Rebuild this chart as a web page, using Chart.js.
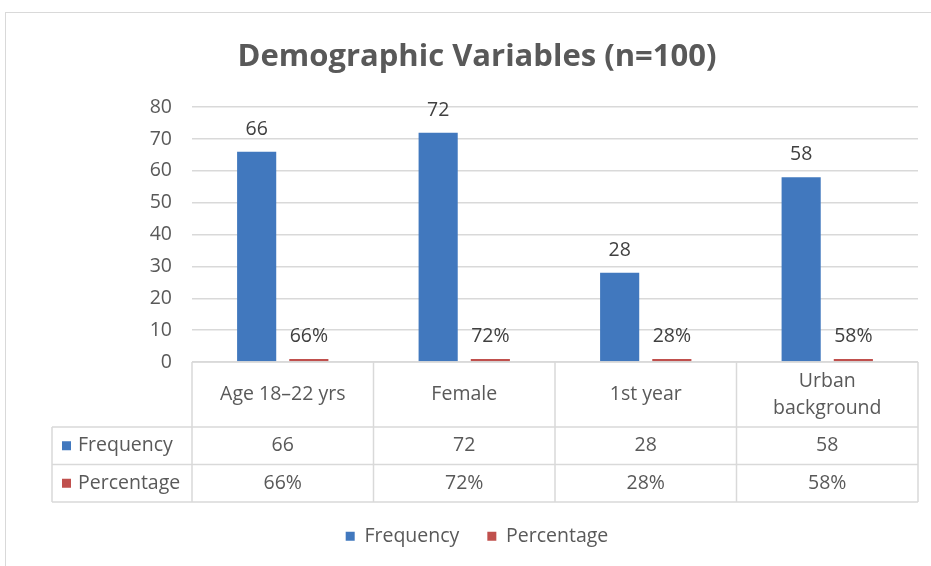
<!DOCTYPE html>
<html>
<head>
<meta charset="utf-8">
<script src="https://cdn.jsdelivr.net/npm/chart.js@4.4.1/dist/chart.umd.min.js"></script>
<style>
  html, body { margin: 0; padding: 0; background: #ffffff; }
  #wrap { position: relative; width: 931px; height: 566px; overflow: hidden; }
  #frame { position: absolute; left: 5px; top: 12px; width: 960px; height: 600px; border: 1px solid #d9d9d9; box-sizing: border-box; }
  canvas { position: absolute; left: 0; top: 0; }
</style>
</head>
<body>
<div id="wrap">
  <div id="frame"></div>
  <canvas id="c" width="931" height="566"></canvas>
</div>
<script>
// ---- data ----
const titleText = 'Demographic Variables (n=100)';
const categories = [['Age 18\u201322 yrs'], ['Female'], ['1st year'], ['Urban', 'background']];
const frequency = [66, 72, 28, 58];
const percentage = [0.66, 0.72, 0.28, 0.58];
const seriesNames = ['Frequency', 'Percentage'];
const yTicks = { min: 0, max: 80, step: 10 };

// ---- styles ----
const FONT = '"Open Sans", Lato, sans-serif';
const FS = 19.5;
const BLUE = '#4178BE';
const RED = '#C0504D';
const TEXT = '#595959';
const GRID = '#d9d9d9';

const fmtFreq = v => String(v);
const fmtPct = v => Math.round(v * 100) + '%';
const formatters = [fmtFreq, fmtPct];

const labelPlugin = {
  id: 'barLabels',
  afterDatasetsDraw(chart) {
    const ctx = chart.ctx;
    ctx.save();
    ctx.font = FS + 'px ' + FONT;
    ctx.fillStyle = '#404040';
    ctx.textAlign = 'center';
    ctx.textBaseline = 'alphabetic';
    chart.data.datasets.forEach((ds, di) => {
      const meta = chart.getDatasetMeta(di);
      meta.data.forEach((bar, i) => {
        ctx.fillText(formatters[di](ds.data[i]), bar.x, bar.y - 17);
      });
    });
    ctx.restore();
  }
};

const tablePlugin = {
  id: 'dataTable',
  afterDraw(chart) {
    const ctx = chart.ctx;
    const area = chart.chartArea;
    const xs = chart.scales.x;
    const n = categories.length;
    const cw = (area.right - area.left) / n;
    const top = area.bottom;
    const hdrH = 65, rowH = 37.5;
    const r1 = top + hdrH, r2 = r1 + rowH, r3 = r2 + rowH;
    const leftX = 52;
    ctx.save();
    ctx.strokeStyle = GRID;
    ctx.lineWidth = 1.5;
    ctx.beginPath();
    ctx.moveTo(area.left, top); ctx.lineTo(area.right, top);
    [r1, r2, r3].forEach(y => { ctx.moveTo(leftX, y); ctx.lineTo(area.right, y); });
    for (let i = 0; i <= n; i++) {
      const x = area.left + i * cw;
      ctx.moveTo(x, top); ctx.lineTo(x, r3);
    }
    ctx.moveTo(leftX, r1); ctx.lineTo(leftX, r3);
    ctx.stroke();

    ctx.font = FS + 'px ' + FONT;
    ctx.fillStyle = TEXT;
    ctx.textAlign = 'center';
    ctx.textBaseline = 'middle';
    categories.forEach((lines, i) => {
      const cx = xs.getPixelForValue(i);
      const lh = 27;
      const y0 = top + hdrH / 2 - (lines.length - 1) * lh / 2;
      lines.forEach((t, k) => ctx.fillText(t, cx, y0 + k * lh));
    });
    const rows = [[r1, r2], [r2, r3]];
    chart.data.datasets.forEach((ds, di) => {
      const cy = (rows[di][0] + rows[di][1]) / 2;
      ctx.textAlign = 'center';
      ds.data.forEach((v, i) => {
        ctx.fillText(formatters[di](v), xs.getPixelForValue(i), cy);
      });
      ctx.fillStyle = ds.backgroundColor;
      ctx.fillRect(62, cy - 4.5, 9, 9);
      ctx.fillStyle = TEXT;
      ctx.textAlign = 'left';
      ctx.fillText(seriesNames[di], 78, cy);
    });
    ctx.restore();
  }
};

new Chart(document.getElementById('c'), {
  type: 'bar',
  data: {
    labels: categories.map(c => c.join(' ')),
    datasets: [
      { label: seriesNames[0], data: frequency, backgroundColor: BLUE },
      { label: seriesNames[1], data: percentage, backgroundColor: RED, minBarLength: 3 }
    ]
  },
  options: {
    responsive: false,
    animation: false,
    events: [],
    layout: { padding: { left: 36, right: 13, top: 0, bottom: 10 } },
    datasets: { bar: { categoryPercentage: 0.575, barPercentage: 0.75 } },
    scales: {
      x: {
        grid: { display: false },
        border: { display: false },
        ticks: { display: false },
        afterFit(scale) { scale.height = 136.5; }
      },
      y: {
        min: yTicks.min, max: yTicks.max,
        ticks: { stepSize: yTicks.step, padding: 20, color: TEXT, font: { family: FONT, size: FS } },
        grid: { color: GRID, lineWidth: 1.5, drawTicks: false },
        border: { display: false },
        afterFit(scale) { scale.width = 156; }
      }
    },
    plugins: {
      title: {
        display: true,
        text: titleText,
        color: TEXT,
        font: { family: FONT, size: 31, weight: 'bold' },
        padding: { top: 39, bottom: 31 }
      },
      legend: {
        position: 'bottom',
        labels: { color: TEXT, boxWidth: 9, boxHeight: 9, padding: 28, font: { family: FONT, size: FS } }
      },
      tooltip: { enabled: false }
    }
  },
  plugins: [labelPlugin, tablePlugin]
});
</script>
</body>
</html>
